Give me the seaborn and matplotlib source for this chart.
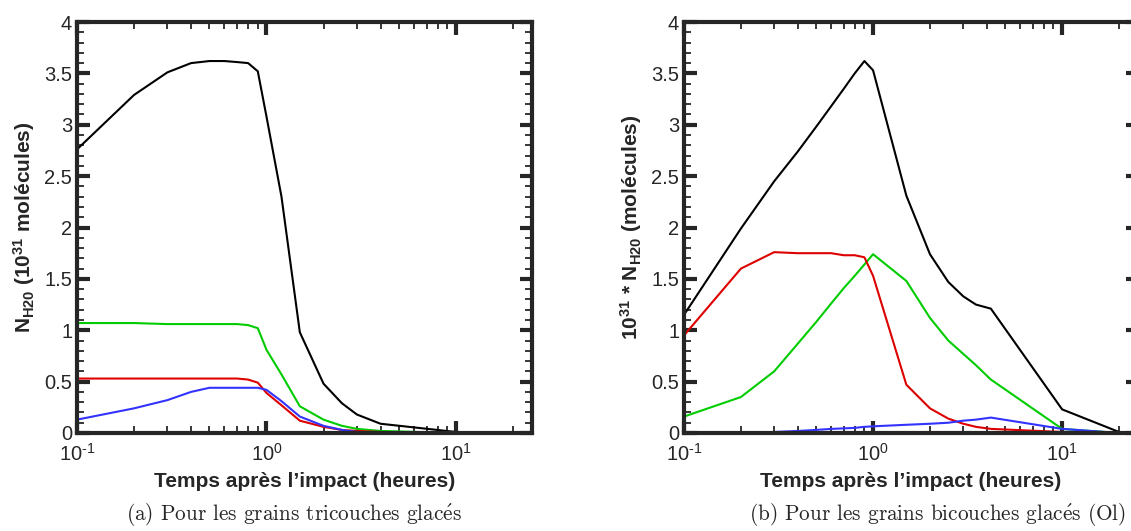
import numpy as np
import pandas as pd
import seaborn as sns
import matplotlib.pyplot as plt
from matplotlib.ticker import LogLocator, MultipleLocator, FuncFormatter, NullFormatter

# panel (a): tricouches
times_a = [0.1, 0.2, 0.3, 0.4, 0.5, 0.6, 0.7, 0.8, 0.9, 1.0, 1.2, 1.5, 2.0, 2.5, 3.0, 4.0, 10.0, 25.0]
black_a = [2.76, 3.29, 3.51, 3.60, 3.62, 3.62, 3.61, 3.60, 3.52, 3.08, 2.30, 0.98, 0.48, 0.29, 0.18, 0.09, 0.01, 0.0]
green_a = [1.07, 1.07, 1.06, 1.06, 1.06, 1.06, 1.06, 1.05, 1.02, 0.81, 0.57, 0.26, 0.13, 0.07, 0.04, 0.02, 0.0, 0.0]
red_a = [0.53, 0.53, 0.53, 0.53, 0.53, 0.53, 0.53, 0.52, 0.49, 0.39, 0.27, 0.12, 0.06, 0.03, 0.02, 0.01, 0.0, 0.0]
blue_a = [0.13, 0.24, 0.32, 0.40, 0.44, 0.44, 0.44, 0.44, 0.44, 0.42, 0.31, 0.16, 0.07, 0.03, 0.01, 0.0, 0.0, 0.0]

# panel (b): bicouches (Ol)
times_b = [0.1, 0.2, 0.3, 0.4, 0.5, 0.6, 0.7, 0.8, 0.9, 1.0, 1.5, 2.0, 2.5, 3.0, 3.5, 4.2, 10.0, 20.0]
black_b = [1.15, 1.99, 2.45, 2.74, 2.98, 3.18, 3.35, 3.50, 3.62, 3.53, 2.31, 1.74, 1.47, 1.33, 1.25, 1.21, 0.23, 0.01]
green_b = [0.16, 0.35, 0.60, 0.87, 1.08, 1.26, 1.41, 1.53, 1.64, 1.74, 1.48, 1.12, 0.90, 0.77, 0.66, 0.52, 0.04, 0.0]
red_b = [0.95, 1.60, 1.76, 1.75, 1.75, 1.75, 1.73, 1.73, 1.71, 1.53, 0.47, 0.24, 0.14, 0.09, 0.06, 0.04, 0.01, 0.0]
blue_b = [0.0, 0.0, 0.01, 0.02, 0.03, 0.04, 0.045, 0.05, 0.06, 0.065, 0.08, 0.09, 0.10, 0.12, 0.13, 0.15, 0.04, 0.0]

ylabel_a = r"$\mathbf{N_{H20}\ (10^{31}}$ molécules)"
ylabel_b = r"$\mathbf{10^{31}}$ * $\mathbf{N_{H20}}$ (molécules)"
xlabel = "Temps après l’impact (heures)"
caption_a = r"(a) Pour les grains tricouches glac$\mathrm{\acute{e}}$s"
caption_b = r"(b) Pour les grains bicouches glac$\mathrm{\acute{e}}$s (Ol)"

colors = {"black": "#000000", "red": "#dd0000", "green": "#00cc00", "blue": "#3333ff"}

sns.set_style("ticks")
plt.rcParams['font.family'] = ['Liberation Sans', 'DejaVu Sans']
plt.rcParams['mathtext.fontset'] = 'custom'
plt.rcParams['mathtext.rm'] = 'Liberation Sans'
plt.rcParams['mathtext.bf'] = 'Liberation Sans:bold'
plt.rcParams['mathtext.it'] = 'Liberation Sans:italic'


def decade_label(v, pos):
    e = int(round(np.log10(v)))
    sign = "\u2010" if e < 0 else ""
    return f"$10^{{{sign}{abs(e)}}}$"


def draw_panel(ax, times, series, ylabel):
    for name, vals in series:
        df = pd.DataFrame({"t": times, "n": vals})
        sns.lineplot(data=df, x="t", y="n", ax=ax, color=colors[name], lw=1.5,
                     sort=False, estimator=None)
    ax.set_xscale("log")
    ax.set_xlim(0.1, 25.2)
    ax.set_ylim(0, 4)
    ax.xaxis.set_major_locator(LogLocator(base=10))
    ax.xaxis.set_major_formatter(FuncFormatter(decade_label))
    ax.xaxis.set_minor_locator(LogLocator(base=10, subs=np.arange(2, 10)))
    ax.xaxis.set_minor_formatter(NullFormatter())
    ax.yaxis.set_major_locator(MultipleLocator(0.5))
    ax.yaxis.set_minor_locator(MultipleLocator(0.1))
    ax.yaxis.set_major_formatter(FuncFormatter(lambda v, p: f"{v:g}"))
    ax.tick_params(which="both", direction="in", top=True, right=True, labelsize=14.5)
    ax.tick_params(which="major", length=9, width=3)
    ax.tick_params(which="minor", length=5, width=1.3)
    ax.tick_params(axis="x", which="major", pad=7)
    for sp in ax.spines.values():
        sp.set_linewidth(3)
    ax.set_xlabel(xlabel, fontsize=15, fontweight="bold", labelpad=5)
    ax.set_ylabel(ylabel, fontsize=15, fontweight="bold", labelpad=5)


fig = plt.figure(figsize=(11.31, 5.31), dpi=100)
ax_a = fig.add_axes([77 / 1131, 98 / 531, 455 / 1131, 411 / 531])
ax_b = fig.add_axes([684 / 1131, 98 / 531, 454 / 1131, 411 / 531])

draw_panel(ax_a, times_a, [("black", black_a), ("green", green_a), ("red", red_a), ("blue", blue_a)], ylabel_a)
draw_panel(ax_b, times_b, [("black", black_b), ("green", green_b), ("red", red_b), ("blue", blue_b)], ylabel_b)

for cx, ha, cap in [(294, "center", caption_a), (1126, "right", caption_b)]:
    t = fig.text(cx / 1131, 1 - 514 / 531, cap, ha=ha, va="center",
                 family='cmr10', fontsize=15.3)
    t.set_math_fontfamily('cm')

fig.savefig("out.png", dpi=100)
